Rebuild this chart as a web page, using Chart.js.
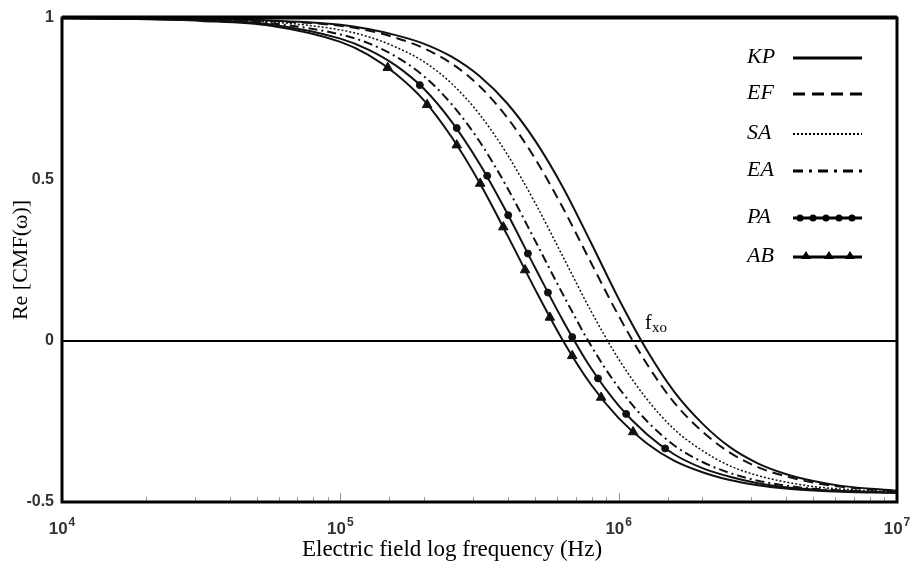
<!DOCTYPE html>
<html>
<head>
<meta charset="utf-8">
<script src="https://cdn.jsdelivr.net/npm/chart.js@4.4.1/dist/chart.umd.min.js"></script>
<style>
  html, body { margin: 0; padding: 0; background: #fff; }
  #wrap { width: 914px; height: 570px; }
</style>
</head>
<body>
<div id="wrap"><canvas id="cmf"></canvas></div>
<script>
// frequency grid (Hz) shared by all curves
const freq = [10000, 17800, 31600, 56200, 100000, 126000, 158000, 200000, 251000, 316000, 398000, 501000,
              631000, 794000, 1000000, 1260000, 1580000, 2000000, 2510000, 3160000, 3980000, 5010000, 6310000, 10000000];

const names = ["KP", "EF", "SA", "EA", "PA", "AB"];

const kp = [1.000, 0.999, 0.998, 0.992, 0.979, 0.966, 0.947, 0.920, 0.880, 0.820, 0.735, 0.620, 0.475, 0.305, 0.130, -0.028, -0.157, -0.257, -0.330, -0.380, -0.413, -0.435, -0.450, -0.465];
const ef = [1.000, 0.999, 0.997, 0.991, 0.976, 0.961, 0.939, 0.906, 0.859, 0.789, 0.691, 0.564, 0.411, 0.243, 0.077, -0.071, -0.191, -0.282, -0.347, -0.392, -0.420, -0.440, -0.453, -0.466];
const sa = [1.000, 0.999, 0.996, 0.988, 0.963, 0.942, 0.910, 0.864, 0.797, 0.702, 0.577, 0.427, 0.260, 0.093, -0.057, -0.180, -0.274, -0.341, -0.388, -0.418, -0.438, -0.452, -0.460, -0.469];
const ea = [1.000, 0.998, 0.995, 0.984, 0.949, 0.922, 0.881, 0.819, 0.733, 0.618, 0.474, 0.310, 0.143, -0.014, -0.146, -0.248, -0.324, -0.376, -0.410, -0.434, -0.449, -0.459, -0.464, -0.470];
const pa = [1.000, 0.998, 0.993, 0.980, 0.936, 0.902, 0.853, 0.780, 0.679, 0.549, 0.394, 0.226, 0.062, -0.084, -0.201, -0.289, -0.352, -0.395, -0.422, -0.442, -0.454, -0.461, -0.466, -0.471];
const ab = [0.999, 0.997, 0.991, 0.976, 0.926, 0.886, 0.827, 0.744, 0.631, 0.490, 0.327, 0.159, 0.000, -0.135, -0.240, -0.318, -0.372, -0.408, -0.432, -0.448, -0.458, -0.464, -0.468, -0.472];

// marker positions on the PA and AB curves
const paMarkFreq = [193000, 262000, 337000, 401000, 472000, 557000, 681000, 843000, 1064000, 1469000];
const paMarkVal = [0.792, 0.659, 0.511, 0.389, 0.270, 0.149, 0.011, -0.117, -0.227, -0.334];
const abMarkFreq = [148000, 205000, 262000, 318000, 385000, 461000, 566000, 681000, 865000, 1127000];
const abMarkVal = [0.846, 0.731, 0.606, 0.487, 0.352, 0.219, 0.072, -0.047, -0.176, -0.283];

const yTicks = [-0.5, 0, 0.5, 1];
const xDecades = [10000, 100000, 1000000, 10000000];
const xExponents = ["4", "5", "6", "7"];

const ink = "#111";
const serif = "'Liberation Serif', 'Times New Roman', serif";
const tickFont = "'Liberation Sans Narrow', 'Liberation Sans', sans-serif";

function pts(xs, ys) {
    return xs.map((x, i) => ({ x: x, y: ys[i] }));
}

const styles = {
    KP: { dash: [], width: 2 },
    EF: { dash: [10, 6], width: 2 },
    SA: { dash: [2, 2], width: 1.5 },
    EA: { dash: [9, 4, 2, 4], width: 2 },
    PA: { dash: [], width: 2 },
    AB: { dash: [], width: 2 }
};

const series = [kp, ef, sa, ea, pa, ab];

const datasets = names.map((n, i) => ({
    label: n,
    data: pts(freq, series[i]),
    borderColor: ink,
    borderWidth: styles[n].width,
    borderDash: styles[n].dash,
    pointRadius: 0,
    fill: false,
    cubicInterpolationMode: "monotone"
}));

datasets.push({
    label: "PA markers",
    data: pts(paMarkFreq, paMarkVal),
    showLine: false,
    pointStyle: "circle",
    pointRadius: 3.5,
    backgroundColor: ink,
    borderColor: ink
});
datasets.push({
    label: "AB markers",
    data: pts(abMarkFreq, abMarkVal),
    showLine: false,
    pointStyle: "triangle",
    pointRadius: 5.5,
    backgroundColor: ink,
    borderColor: ink
});

// frame, minor ticks, x labels, legend and f_xo note
const decor = {
    id: "decor",
    afterDraw(chart) {
        const ctx = chart.ctx;
        const a = chart.chartArea;
        const xs = chart.scales.x;
        ctx.save();

        // little ticks along the bottom
        ctx.strokeStyle = "#999";
        ctx.lineWidth = 1;
        xs.ticks.forEach(t => {
            const px = Math.round(xs.getPixelForValue(t.value)) + 0.5;
            const major = xDecades.includes(t.value);
            ctx.beginPath();
            ctx.moveTo(px, a.bottom - 1);
            ctx.lineTo(px, a.bottom - (major ? 9 : 5));
            ctx.stroke();
        });

        // frame
        ctx.strokeStyle = "#000";
        ctx.lineWidth = 3;
        ctx.strokeRect(a.left, a.top, a.right - a.left, a.bottom - a.top);
        ctx.lineWidth = 2;
        ctx.beginPath();
        ctx.moveTo(a.left, a.top - 1.5);
        ctx.lineTo(a.right, a.top - 1.5);
        ctx.stroke();

        // decade labels 10^n
        ctx.fillStyle = "#333";
        ctx.textBaseline = "alphabetic";
        ctx.textAlign = "left";
        xDecades.forEach((v, i) => {
            const px = xs.getPixelForValue(v);
            ctx.font = "bold 17px " + tickFont;
            const wBase = ctx.measureText("10").width;
            ctx.font = "bold 12px " + tickFont;
            const wExp = ctx.measureText(xExponents[i]).width;
            const left = px - (wBase + wExp + 1) / 2;
            ctx.font = "bold 17px " + tickFont;
            ctx.fillText("10", left, 534);
            ctx.font = "bold 12px " + tickFont;
            ctx.fillText(xExponents[i], left + wBase + 1, 526);
        });

        // x axis title
        ctx.fillStyle = "#000";
        ctx.font = "23px " + serif;
        ctx.textAlign = "center";
        ctx.textBaseline = "middle";
        ctx.fillText("Electric field log frequency (Hz)", 452, 550);

        // legend
        const rowY = [57, 93, 133, 170, 217, 256];
        const x0 = 793, x1 = 862;
        ctx.textAlign = "left";
        ctx.font = "italic 22px " + serif;
        ctx.fillStyle = "#000";
        names.forEach((n, i) => {
            const y = rowY[i];
            ctx.fillText(n, 747, y);
            ctx.strokeStyle = "#000";
            ctx.lineWidth = n === "SA" ? 2 : 3;
            let dash = [];
            if (n === "EF") dash = [12, 7];
            if (n === "SA") dash = [2, 2];
            if (n === "EA") dash = [10, 6, 3, 6];
            ctx.setLineDash(dash);
            ctx.beginPath();
            ctx.moveTo(x0, y + 1);
            ctx.lineTo(x1, y + 1);
            ctx.stroke();
            ctx.setLineDash([]);
            if (n === "PA") {
                [800, 813, 826, 839, 852].forEach(cx => {
                    ctx.beginPath();
                    ctx.arc(cx, y + 1, 3.5, 0, Math.PI * 2);
                    ctx.fill();
                });
            }
            if (n === "AB") {
                [806, 829, 850].forEach(cx => {
                    ctx.beginPath();
                    ctx.moveTo(cx, y - 5);
                    ctx.lineTo(cx + 5, y + 3);
                    ctx.lineTo(cx - 5, y + 3);
                    ctx.closePath();
                    ctx.fill();
                });
            }
        });

        // crossover note
        ctx.textBaseline = "alphabetic";
        ctx.font = "20px " + serif;
        ctx.fillText("f", 645, 329);
        ctx.font = "15px " + serif;
        ctx.fillText("xo", 652, 332);

        ctx.restore();
    }
};

new Chart(document.getElementById("cmf"), {
    type: "line",
    data: { datasets: datasets },
    options: {
        responsive: true,
        maintainAspectRatio: false,
        animation: false,
        layout: { padding: { top: 18, right: 17, left: 0, bottom: 0 } },
        plugins: {
            legend: { display: false },
            tooltip: { enabled: false }
        },
        scales: {
            x: {
                type: "logarithmic",
                min: 10000,
                max: 10000000,
                afterFit: s => { s.height = 68; },
                grid: { display: false },
                border: { display: false },
                ticks: { display: false, autoSkip: false }
            },
            y: {
                min: -0.5,
                max: 1,
                afterFit: s => { s.width = 62; },
                afterBuildTicks: s => { s.ticks = yTicks.map(v => ({ value: v })); },
                border: { display: false },
                grid: {
                    drawTicks: false,
                    color: c => c.tick && c.tick.value === 0 ? "#000" : "rgba(0,0,0,0)",
                    lineWidth: 2
                },
                ticks: {
                    padding: 8,
                    color: "#333",
                    font: { family: "'Liberation Sans', sans-serif", size: 16, weight: "bold" },
                    callback: v => String(v)
                },
                title: {
                    display: true,
                    text: "Re [CMF(\u03c9)]",
                    color: "#000",
                    font: { family: serif, size: 22 },
                    padding: { top: 8, bottom: 0 }
                }
            }
        }
    },
    plugins: [decor]
});
</script>
</body>
</html>
